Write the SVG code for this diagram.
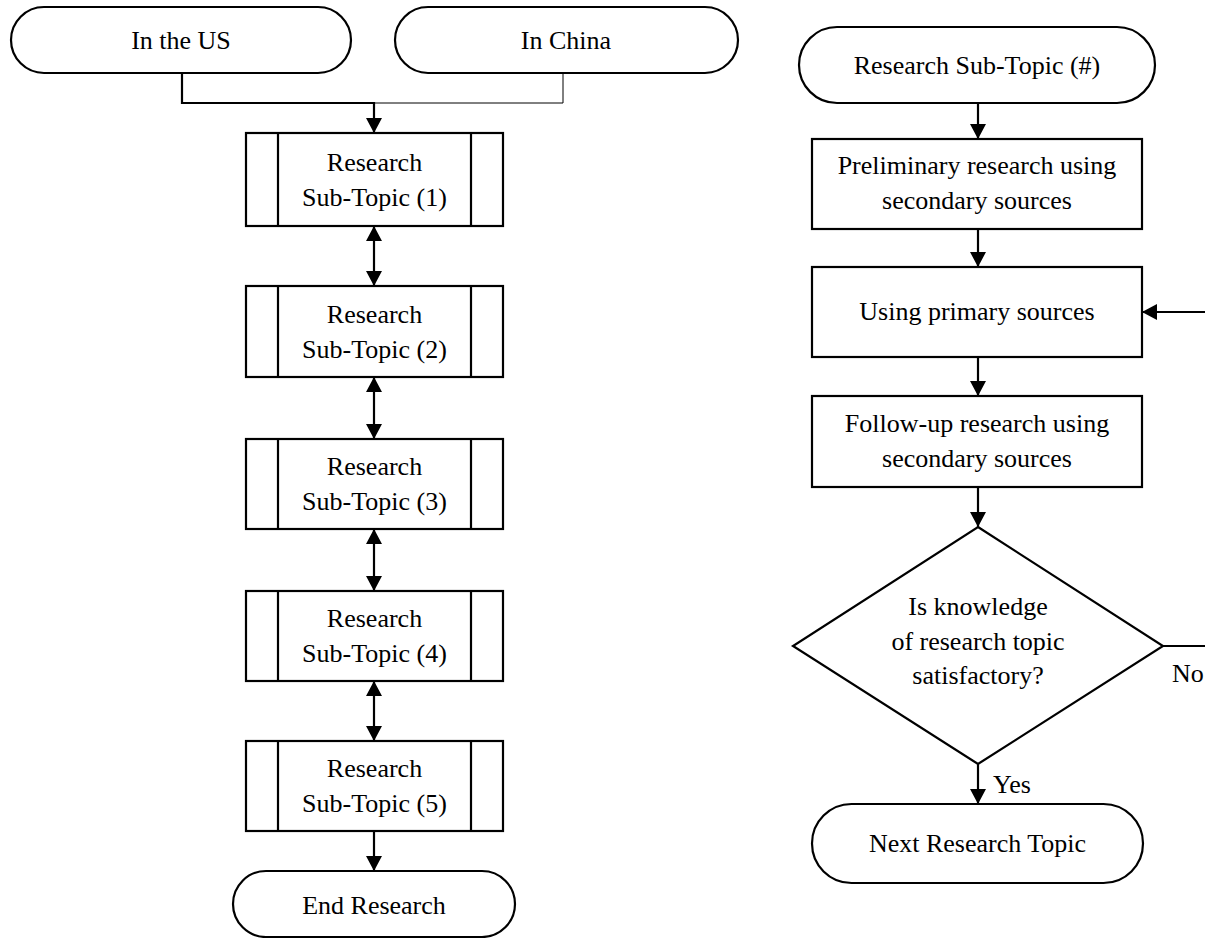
<svg xmlns="http://www.w3.org/2000/svg" width="1205" height="938" viewBox="0 0 1205 938">
<defs>
<marker id="ah" markerUnits="userSpaceOnUse" markerWidth="16" markerHeight="16" refX="15" refY="8" orient="auto-start-reverse">
<path d="M0,0 L15,8 L0,16 z" fill="#000"/>
</marker>
<style>
.s{fill:#fff;stroke:#000;stroke-width:2.2}
.c{fill:none;stroke:#000;stroke-width:2.2}
.t{font-family:"Liberation Serif","Times New Roman",serif;font-size:26px;fill:#000;text-anchor:middle}
.l{font-family:"Liberation Serif","Times New Roman",serif;font-size:26px;fill:#000}
</style>
</defs>
<rect width="1205" height="938" fill="#fff"/>
<g id="connectors">
<path class="c" d="M182,73 V103 H374 V133" marker-end="url(#ah)"/>
<path d="M563,73 V103 H374" fill="none" stroke="#000" stroke-width="1"/>
<path class="c" d="M374,226 V286" marker-start="url(#ah)" marker-end="url(#ah)"/>
<path class="c" d="M374,377 V439" marker-start="url(#ah)" marker-end="url(#ah)"/>
<path class="c" d="M374,529 V591" marker-start="url(#ah)" marker-end="url(#ah)"/>
<path class="c" d="M374,681 V741" marker-start="url(#ah)" marker-end="url(#ah)"/>
<path class="c" d="M374,831 V871" marker-end="url(#ah)"/>
<path class="c" d="M978,103 V139" marker-end="url(#ah)"/>
<path class="c" d="M978,229 V267" marker-end="url(#ah)"/>
<path class="c" d="M978,357 V396" marker-end="url(#ah)"/>
<path class="c" d="M978,487 V527" marker-end="url(#ah)"/>
<path class="c" d="M978,764 V804" marker-end="url(#ah)"/>
<path class="c" d="M1163,646 H1212 V312 H1142" marker-end="url(#ah)"/>
<text class="l" x="993" y="793">Yes</text>
<text class="l" x="1172" y="682">No</text>
</g>
<g id="us">
<rect class="s" x="11" y="7" width="340" height="66" rx="33"/>
<text class="t" x="181" y="49">In the US</text>
</g>
<g id="china">
<rect class="s" x="395" y="7" width="343" height="66" rx="33"/>
<text class="t" x="566" y="49">In China</text>
</g>
<g id="sub1">
<rect class="s" x="246" y="133" width="257" height="93"/>
<path class="c" d="M278,133 V226 M471,133 V226"/>
<text class="t" x="374.5" y="170.5">Research</text>
<text class="t" x="374.5" y="205.5">Sub-Topic (1)</text>
</g>
<g id="sub2">
<rect class="s" x="246" y="286" width="257" height="91"/>
<path class="c" d="M278,286 V377 M471,286 V377"/>
<text class="t" x="374.5" y="322.5">Research</text>
<text class="t" x="374.5" y="357.5">Sub-Topic (2)</text>
</g>
<g id="sub3">
<rect class="s" x="246" y="439" width="257" height="90"/>
<path class="c" d="M278,439 V529 M471,439 V529"/>
<text class="t" x="374.5" y="475">Research</text>
<text class="t" x="374.5" y="510">Sub-Topic (3)</text>
</g>
<g id="sub4">
<rect class="s" x="246" y="591" width="257" height="90"/>
<path class="c" d="M278,591 V681 M471,591 V681"/>
<text class="t" x="374.5" y="627">Research</text>
<text class="t" x="374.5" y="662">Sub-Topic (4)</text>
</g>
<g id="sub5">
<rect class="s" x="246" y="741" width="257" height="90"/>
<path class="c" d="M278,741 V831 M471,741 V831"/>
<text class="t" x="374.5" y="777">Research</text>
<text class="t" x="374.5" y="812">Sub-Topic (5)</text>
</g>
<g id="end">
<rect class="s" x="233" y="871" width="282" height="66" rx="33"/>
<text class="t" x="374" y="914">End Research</text>
</g>
<g id="start">
<rect class="s" x="799" y="27" width="356" height="76" rx="38"/>
<text class="t" x="977" y="74">Research Sub-Topic (#)</text>
</g>
<g id="prelim">
<rect class="s" x="812" y="139" width="330" height="90"/>
<text class="t" x="977" y="174">Preliminary research using</text>
<text class="t" x="977" y="209">secondary sources</text>
</g>
<g id="primary">
<rect class="s" x="812" y="267" width="330" height="90"/>
<text class="t" x="977" y="320">Using primary sources</text>
</g>
<g id="followup">
<rect class="s" x="812" y="396" width="330" height="91"/>
<text class="t" x="977" y="432">Follow-up research using</text>
<text class="t" x="977" y="467">secondary sources</text>
</g>
<g id="decision">
<polygon class="s" points="978,527 1163,646 978,764 793,646"/>
<text class="t" x="978" y="615">Is knowledge</text>
<text class="t" x="978" y="649.5">of research topic</text>
<text class="t" x="978" y="684">satisfactory?</text>
</g>
<g id="next">
<rect class="s" x="812" y="804" width="331" height="79" rx="39.5"/>
<text class="t" x="977.5" y="852">Next Research Topic</text>
</g>
</svg>
